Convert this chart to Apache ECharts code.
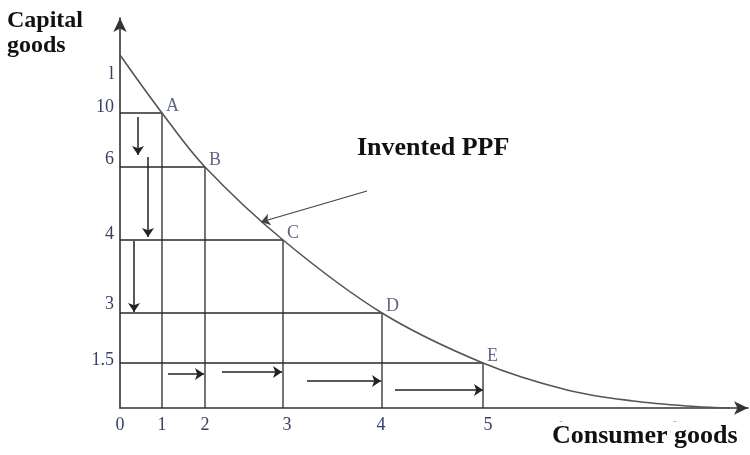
<!DOCTYPE html>
<html>
<head>
<meta charset="utf-8">
<script src="https://cdn.jsdelivr.net/npm/echarts@6/dist/echarts.min.js"></script>
<style>html,body{margin:0;padding:0;background:#fff;}#c{width:750px;height:455px;}</style>
</head>
<body>
<div id="c"></div>
<script>
// Drawing units: positions (sketch scale, not linear in labels)
const pointNames = ['A', 'B', 'C', 'D', 'E'];
const pointX = [4.2, 8.5, 16.3, 26.2, 36.3];
const pointY = [29.5, 24.1, 16.8, 9.5, 4.5];

// PPF curve (intercept, points, tail reaching the axis)
const curveX = [0, 4.2, 8.5, 16.3, 26.2, 36.3, 44.7, 51.3, 57.5, 61];
const curveY = [35.3, 29.5, 24.1, 16.8, 9.5, 4.5, 1.8, 0.7, 0.15, 0];

// tick labels
const xTickPos = [0, 4.2, 8.5, 16.7, 26.1, 36.8, 44.1, 55.5];
const xTickLabels = ['0', '1', '2', '3', '4', '5', '-', '-'];
const yTickPos = [33.4, 30.1, 24.9, 17.4, 10.4, 4.8];
const yTickLabels = ['l', '10', '6', '4', '3', '1.5'];

// arrows [x1, y1, x2, y2]
const downArrows = [[1.8, 29.1, 1.8, 25.3], [2.8, 25.1, 2.8, 17.1], [1.4, 16.7, 1.4, 9.6]];
const rightArrows = [[4.8, 3.4, 8.4, 3.4], [10.2, 3.6, 16.2, 3.6], [18.7, 2.7, 26.1, 2.7], [27.5, 1.8, 36.3, 1.8]];
const pointerArrow = [[24.7, 21.7, 14.1, 18.6]];

const labelColor = '#383f63';
const serif = '"Liberation Serif", "DejaVu Serif", serif';

const chart = echarts.init(document.getElementById('c'));

const dropSeries = pointX.map((x, i) => ({
  type: 'line',
  data: [[0, pointY[i]], [x, pointY[i]], [x, 0]],
  symbol: 'none',
  lineStyle: { color: '#2a2a2a', width: 1.3 },
  silent: true,
  z: 2
}));

function arrowData(arr) {
  return arr.map(a => ({ coords: [[a[0], a[1]], [a[2], a[3]]] }));
}

chart.setOption({
  animation: false,
  backgroundColor: '#fff',
  grid: { left: 120, right: 2, top: 18, bottom: 47 },
  xAxis: {
    type: 'value', min: 0, max: 62.8,
    splitLine: { show: false },
    axisTick: { show: false },
    axisLine: { lineStyle: { color: '#333', width: 1.6 }, symbol: ['none', 'arrow'], symbolSize: [10, 14] },
    axisLabel: {
      customValues: xTickPos,
      margin: 8,
      fontFamily: serif, fontSize: 18, color: labelColor,
      formatter: function (v) {
        const i = xTickPos.indexOf(v);
        const t = i >= 0 ? xTickLabels[i] : '';
        return t === '-' ? '{d|-}' : t;
      },
      rich: { d: { fontSize: 10, color: '#8fa0c0', padding: [0, 0, 12, 0] } }
    }
  },
  yAxis: {
    type: 'value', min: 0, max: 39.0,
    splitLine: { show: false },
    axisTick: { show: false },
    axisLine: { lineStyle: { color: '#333', width: 1.6 }, symbol: ['none', 'arrow'], symbolSize: [10, 14] },
    axisLabel: {
      customValues: yTickPos,
      margin: 6,
      fontFamily: serif, fontSize: 18, color: labelColor,
      formatter: function (v) {
        const i = yTickPos.indexOf(v);
        return i >= 0 ? yTickLabels[i] : '';
      }
    }
  },
  graphic: [
    { type: 'text', left: 7, top: 8, style: { text: 'Capital\ngoods', font: 'bold 24px ' + serif, fill: '#111', lineHeight: 25 } },
    { type: 'text', left: 357, top: 135, style: { text: 'Invented PPF', font: 'bold 26px ' + serif, fill: '#111' } },
    { type: 'text', left: 552, top: 423, style: { text: 'Consumer goods', font: 'bold 26px ' + serif, fill: '#111' } }
  ],
  series: [
    ...dropSeries,
    {
      type: 'line',
      data: curveX.map((x, i) => [x, curveY[i]]),
      smooth: 0.35,
      symbol: 'none',
      lineStyle: { color: '#555', width: 1.6 },
      z: 3
    },
    {
      type: 'scatter',
      data: pointX.map((x, i) => ({ value: [x, pointY[i]], name: pointNames[i] })),
      symbolSize: 0,
      label: {
        show: true, position: 'right', distance: 4, offset: [0, -7],
        formatter: p => p.name,
        fontFamily: serif, fontSize: 18, color: labelColor
      },
      z: 4
    },
    {
      type: 'lines', coordinateSystem: 'cartesian2d',
      data: arrowData(downArrows.concat(rightArrows)),
      symbol: ['none', 'arrow'], symbolSize: 9,
      lineStyle: { color: '#222', width: 1.5, opacity: 1 },
      z: 5
    },
    {
      type: 'lines', coordinateSystem: 'cartesian2d',
      data: arrowData(pointerArrow),
      symbol: ['none', 'arrow'], symbolSize: 9,
      lineStyle: { color: '#444', width: 1.3, opacity: 1 },
      z: 5
    }
  ]
});
</script>
</body>
</html>
